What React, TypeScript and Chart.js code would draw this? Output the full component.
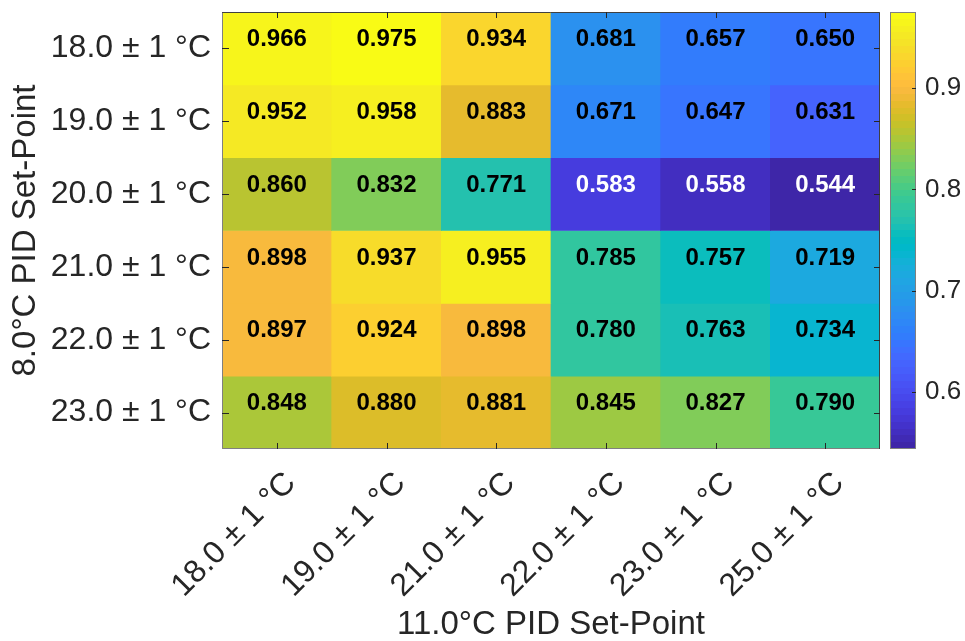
import React, { useEffect, useRef } from 'react';
import { Chart, registerables } from 'chart.js';

Chart.register(...registerables);

const xLabels = ['18.0 ± 1 °C', '19.0 ± 1 °C', '21.0 ± 1 °C', '22.0 ± 1 °C', '23.0 ± 1 °C', '25.0 ± 1 °C'];
const yLabels = ['18.0 ± 1 °C', '19.0 ± 1 °C', '20.0 ± 1 °C', '21.0 ± 1 °C', '22.0 ± 1 °C', '23.0 ± 1 °C'];

const row18 = [0.966, 0.975, 0.934, 0.681, 0.657, 0.650];
const row19 = [0.952, 0.958, 0.883, 0.671, 0.647, 0.631];
const row20 = [0.860, 0.832, 0.771, 0.583, 0.558, 0.544];
const row21 = [0.898, 0.937, 0.955, 0.785, 0.757, 0.719];
const row22 = [0.897, 0.924, 0.898, 0.780, 0.763, 0.734];
const row23 = [0.848, 0.880, 0.881, 0.845, 0.827, 0.790];
const values = [row18, row19, row20, row21, row22, row23];

const colorbarTicks = [0.6, 0.7, 0.8, 0.9];
const xTitle = '11.0°C PID Set-Point';
const yTitle = '8.0°C PID Set-Point';

const PARULA: number[][] = [
  [0.2422, 0.1504, 0.6603], [0.2504, 0.1650, 0.7076], [0.2578, 0.1818, 0.7511], [0.2647, 0.1978, 0.7952],
  [0.2706, 0.2147, 0.8364], [0.2751, 0.2342, 0.8710], [0.2783, 0.2559, 0.8991], [0.2803, 0.2782, 0.9221],
  [0.2813, 0.3006, 0.9414], [0.2810, 0.3228, 0.9579], [0.2795, 0.3447, 0.9717], [0.2760, 0.3667, 0.9829],
  [0.2699, 0.3892, 0.9906], [0.2602, 0.4123, 0.9952], [0.2440, 0.4358, 0.9988], [0.2206, 0.4603, 0.9973],
  [0.1963, 0.4847, 0.9892], [0.1834, 0.5074, 0.9798], [0.1786, 0.5289, 0.9682], [0.1764, 0.5499, 0.9520],
  [0.1687, 0.5703, 0.9359], [0.1540, 0.5902, 0.9218], [0.1460, 0.6091, 0.9079], [0.1380, 0.6276, 0.8973],
  [0.1248, 0.6459, 0.8883], [0.1113, 0.6635, 0.8763], [0.0952, 0.6798, 0.8598], [0.0689, 0.6948, 0.8394],
  [0.0297, 0.7082, 0.8163], [0.0036, 0.7203, 0.7917], [0.0067, 0.7312, 0.7660], [0.0433, 0.7411, 0.7394],
  [0.0964, 0.7500, 0.7120], [0.1408, 0.7584, 0.6842], [0.1717, 0.7670, 0.6554], [0.1938, 0.7758, 0.6251],
  [0.2161, 0.7843, 0.5923], [0.2470, 0.7918, 0.5567], [0.2906, 0.7973, 0.5188], [0.3406, 0.8008, 0.4789],
  [0.3909, 0.8029, 0.4354], [0.4456, 0.8024, 0.3909], [0.5044, 0.7993, 0.3480], [0.5616, 0.7942, 0.3045],
  [0.6174, 0.7876, 0.2612], [0.6720, 0.7793, 0.2227], [0.7242, 0.7698, 0.1910], [0.7738, 0.7598, 0.1646],
  [0.8203, 0.7498, 0.1535], [0.8634, 0.7406, 0.1596], [0.9035, 0.7330, 0.1774], [0.9393, 0.7288, 0.2100],
  [0.9728, 0.7298, 0.2394], [0.9956, 0.7434, 0.2371], [0.9970, 0.7659, 0.2199], [0.9952, 0.7893, 0.2028],
  [0.9892, 0.8136, 0.1885], [0.9786, 0.8386, 0.1766], [0.9676, 0.8639, 0.1643], [0.9610, 0.8890, 0.1537],
  [0.9597, 0.9135, 0.1423], [0.9628, 0.9373, 0.1265], [0.9691, 0.9606, 0.1064], [0.9769, 0.9839, 0.0805],
];

const allVals = values.flat();
const cmin = Math.min(...allVals);
const cmax = Math.max(...allVals);

function parulaAt(i: number): string {
  const c = PARULA[Math.max(0, Math.min(63, i))];
  return `rgb(${Math.round(c[0] * 255)},${Math.round(c[1] * 255)},${Math.round(c[2] * 255)})`;
}
function colorFor(v: number): string {
  return parulaAt(Math.floor(((v - cmin) / (cmax - cmin)) * 64));
}

const FONT = "'Liberation Sans', Arial, Helvetica, sans-serif";
const TEXT = '#262626';

const noPad = (s: any) => {
  s.paddingTop = 0;
  s.paddingBottom = 0;
  s.paddingLeft = 0;
  s.paddingRight = 0;
};

const heatPlugin = {
  id: 'heatExtras',
  afterDatasetsDraw(chart: any) {
    const { ctx, chartArea } = chart;
    const xs = chart.scales.x;
    const ys = chart.scales.y;
    const cb = chart.scales.cb;
    ctx.save();
    // cell values
    ctx.font = `bold 24px ${FONT}`;
    ctx.textAlign = 'center';
    ctx.textBaseline = 'middle';
    values.forEach((row, r) => {
      row.forEach((v, c) => {
        ctx.fillStyle = v < 0.6 ? '#ffffff' : '#000000';
        ctx.fillText(v.toFixed(3), xs.getPixelForValue(c), ys.getPixelForValue(r + 0.5) - 9);
      });
    });
    // box
    ctx.lineWidth = 1;
    ctx.strokeStyle = '#808080';
    ctx.beginPath();
    ctx.moveTo(chartArea.left + 0.5, chartArea.top);
    ctx.lineTo(chartArea.left + 0.5, chartArea.bottom - 0.5);
    ctx.lineTo(chartArea.right, chartArea.bottom - 0.5);
    ctx.stroke();
    ctx.strokeStyle = '#404040';
    ctx.beginPath();
    ctx.moveTo(chartArea.left, chartArea.top + 0.5);
    ctx.lineTo(chartArea.right - 0.5, chartArea.top + 0.5);
    ctx.lineTo(chartArea.right - 0.5, chartArea.bottom);
    ctx.stroke();
    // inward ticks
    ctx.strokeStyle = TEXT;
    ctx.beginPath();
    xLabels.forEach((_, c) => {
      const px = Math.round(xs.getPixelForValue(c)) + 0.5;
      ctx.moveTo(px, chartArea.bottom);
      ctx.lineTo(px, chartArea.bottom - 6);
      ctx.moveTo(px, chartArea.top);
      ctx.lineTo(px, chartArea.top + 6);
    });
    yLabels.forEach((_, r) => {
      const py = Math.round(ys.getPixelForValue(r + 0.5)) + 0.5;
      ctx.moveTo(chartArea.left, py);
      ctx.lineTo(chartArea.left + 7, py);
      ctx.moveTo(chartArea.right, py);
      ctx.lineTo(chartArea.right - 6, py);
    });
    ctx.stroke();
    // colorbar
    const x0 = chartArea.right + 10;
    const w = 26;
    for (let i = 0; i < 64; i++) {
      const yb = Math.round(cb.getPixelForValue(cmin + (i / 64) * (cmax - cmin)));
      const yt = Math.round(cb.getPixelForValue(cmin + ((i + 1) / 64) * (cmax - cmin)));
      ctx.fillStyle = parulaAt(i);
      ctx.fillRect(x0, yt, w, yb - yt);
    }
    ctx.strokeStyle = '#808080';
    ctx.strokeRect(x0 + 0.5, cb.top + 0.5, w - 1, cb.bottom - cb.top - 1);
    ctx.strokeStyle = TEXT;
    ctx.beginPath();
    colorbarTicks.forEach((t) => {
      const py = Math.round(cb.getPixelForValue(t)) + 0.5;
      ctx.moveTo(x0 + w, py);
      ctx.lineTo(x0 + w - 4, py);
    });
    ctx.stroke();
    ctx.restore();
  },
};

export default function App() {
  const ref = useRef<HTMLCanvasElement | null>(null);
  useEffect(() => {
    if (!ref.current) return;
    const datasets = values.map((row, r) => ({
      label: yLabels[r],
      data: row.map(() => [r, r + 1]),
      backgroundColor: row.map((v) => colorFor(v)),
      borderWidth: 0,
      barPercentage: 1,
      categoryPercentage: 1,
      grouped: false,
      xAxisID: 'x',
      yAxisID: 'y',
    }));
    const chart = new Chart(ref.current, {
      type: 'bar',
      data: { labels: xLabels, datasets: datasets as any },
      plugins: [heatPlugin],
      options: {
        animation: false,
        responsive: false,
        layout: { padding: { top: 12, left: 0, right: 0, bottom: 0 } },
        plugins: { legend: { display: false }, tooltip: { enabled: false } },
        scales: {
          x: {
            type: 'category',
            position: 'bottom',
            grid: { display: false, drawTicks: false },
            border: { display: false },
            ticks: {
              autoSkip: false,
              maxRotation: 45,
              minRotation: 45,
              padding: 2,
              labelOffset: 14,
              color: TEXT,
              font: { family: FONT, size: 32, lineHeight: 2.4 },
            },
            title: {
              display: true,
              text: xTitle,
              color: TEXT,
              font: { family: FONT, size: 33, lineHeight: 1 },
              padding: { top: 0, bottom: 0 },
            },
            afterFit: (s: any) => { s.height = 192; noPad(s); },
          },
          y: {
            type: 'linear',
            position: 'left',
            min: 0,
            max: 6,
            reverse: true,
            grid: { display: false, drawTicks: false },
            border: { display: false },
            afterBuildTicks: (s: any) => { s.ticks = yLabels.map((_, i) => ({ value: i + 0.5 })); },
            ticks: {
              padding: 11,
              color: TEXT,
              font: { family: FONT, size: 32 },
              callback: (v: any) => yLabels[Math.round(Number(v) - 0.5)],
            },
            title: {
              display: true,
              text: yTitle,
              color: TEXT,
              font: { family: FONT, size: 33, lineHeight: 1 },
              padding: { top: 9, bottom: 0 },
            },
            afterFit: (s: any) => { s.width = 222; noPad(s); },
          },
          cb: {
            type: 'linear',
            axis: 'y',
            position: 'right',
            min: cmin,
            max: cmax,
            grid: { display: false, drawTicks: false },
            border: { display: false },
            afterBuildTicks: (s: any) => { s.ticks = colorbarTicks.map((v) => ({ value: v })); },
            ticks: {
              padding: 45,
              color: TEXT,
              font: { family: FONT, size: 26 },
              callback: (v: any) => Number(v).toFixed(1),
            },
            afterFit: (s: any) => { s.width = 85; noPad(s); },
          },
        },
      } as any,
    });
    return () => chart.destroy();
  }, []);
  return (
    <div style={{ position: 'absolute', left: 0, top: 0, width: 965, height: 641, background: '#fff' }}>
      <canvas ref={ref} width={965} height={641} />
    </div>
  );
}
